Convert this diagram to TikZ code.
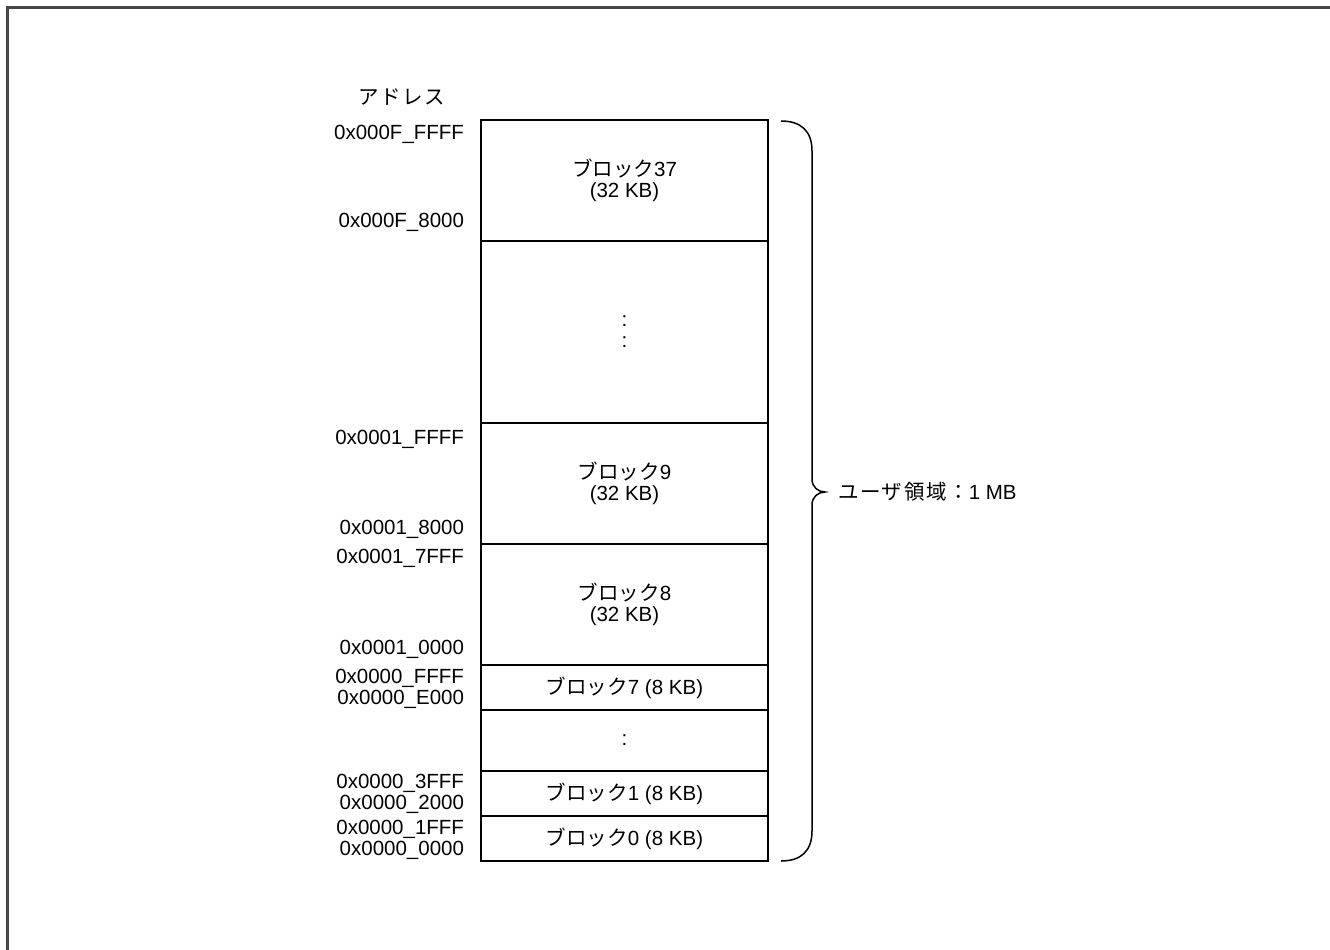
\documentclass[tikz,border=0pt]{standalone}
\usepackage{fontspec}
\setmainfont{Liberation Sans}
\newfontfamily\jpfont{Noto Sans CJK JP}
\newfontfamily\jpwidefont[LetterSpace=8]{Noto Sans CJK JP}
\newcommand{\jp}[1]{{\jpfont #1}}
\newcommand{\jpw}[1]{{\jpwidefont #1}}
\begin{document}
\begin{tikzpicture}[x=1pt,y=-1pt,
  every node/.style={font=\fontsize{20.5}{21}\selectfont, inner sep=0pt, outer sep=0pt},
  blk/.style={draw=black, line width=1.3pt, minimum width=287pt, align=center},
  addr/.style={anchor=base east},
  frameline/.style={draw=black!72, line width=2.2pt},
  bracepath/.style={draw=black, line width=1.5pt}
]
\useasboundingbox (0,0) rectangle (1330,950);
\draw[frameline] (7.5,950) -- (7.5,7.5) -- (1330,7.5);

% header
\node (hdr) at (402,97) {\jpw{アドレス}};

% blocks
\node[blk, minimum height=121pt] (b37) at (624.5,180.5) {\jp{ブロック}37\\(32 KB)};
\node[blk, minimum height=182pt] (bdots) at (624.5,332) {:\\:};
\node[blk, minimum height=121pt] (b9) at (624.5,483.5) {\jp{ブロック}9\\(32 KB)};
\node[blk, minimum height=121pt] (b8) at (624.5,604.5) {\jp{ブロック}8\\(32 KB)};
\node[blk, minimum height=45pt] (b7) at (624.5,687.5) {\jp{ブロック}7 (8 KB)};
\node[blk, minimum height=61pt] (bcol) at (624.5,740.5) {:};
\node[blk, minimum height=45pt] (b1) at (624.5,793.5) {\jp{ブロック}1 (8 KB)};
\node[blk, minimum height=45pt] (b0) at (624.5,838.5) {\jp{ブロック}0 (8 KB)};

% addresses
\node[addr] (a1) at (464,139) {0x000F\_FFFF};
\node[addr] (a2) at (464,227) {0x000F\_8000};
\node[addr] (a3) at (464,444) {0x0001\_FFFF};
\node[addr] (a4) at (464,534) {0x0001\_8000};
\node[addr] (a5) at (464,563) {0x0001\_7FFF};
\node[addr] (a6) at (464,654) {0x0001\_0000};
\node[addr] (a7) at (464,683) {0x0000\_FFFF};
\node[addr] (a8) at (464,704) {0x0000\_E000};
\node[addr] (a9) at (464,788) {0x0000\_3FFF};
\node[addr] (a10) at (464,809) {0x0000\_2000};
\node[addr] (a11) at (464,834) {0x0000\_1FFF};
\node[addr] (a12) at (464,855) {0x0000\_0000};

% brace
\coordinate (btop) at (781,121);
\coordinate (bbot) at (781,861);
\coordinate (btip) at (825,492);
\draw[bracepath] (btop) .. controls (801,121) and (812,131) .. (812,151) -- (812,479)
  .. controls (812,487) and (818,492) .. (btip)
  .. controls (818,492) and (812,497) .. (812,505) -- (812,831)
  .. controls (812,851) and (801,861) .. (bbot);

\node[anchor=base west] (lbl) at (838,499) {\jpw{ユーザ領域：}1 MB};
\end{tikzpicture}
\end{document}
